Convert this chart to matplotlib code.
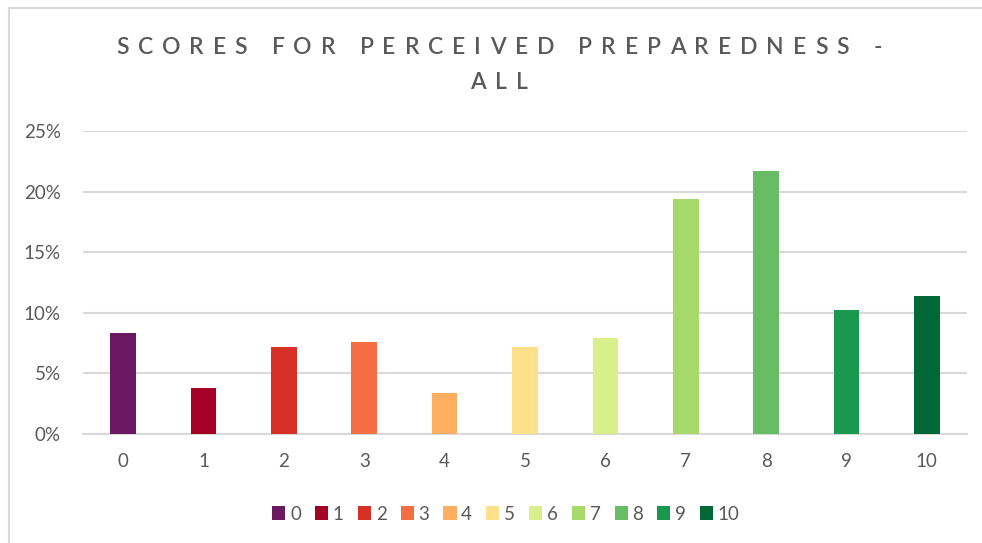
import matplotlib
matplotlib.use("Agg")
import matplotlib.pyplot as plt
from matplotlib.patches import Rectangle, Patch
from matplotlib.ticker import FuncFormatter, MultipleLocator

categories = ["0", "1", "2", "3", "4", "5", "6", "7", "8", "9", "10"]
values = [0.0835, 0.038, 0.072, 0.076, 0.034, 0.072, 0.0795, 0.194, 0.217, 0.102, 0.114]
colors = ["#6A1860", "#A50026", "#D73027", "#F46D43", "#FDAE61", "#FEE08B",
          "#D9EF8B", "#A6D96A", "#66BD63", "#1A9850", "#006837"]
title_lines = ["SCORES FOR PERCEIVED PREPAREDNESS -", "ALL"]

TXT = "#595959"
GRID = "#D9D9D9"
FONT = ["Lato", "DejaVu Sans"]

W, H = 982, 543
fig = plt.figure(figsize=(W / 100, H / 100), dpi=100)
fig.patch.set_facecolor("white")

# chart border (extends past right/bottom edge)
fig.patches.append(Rectangle((8.5 / W, -0.1), 1.2, 1.1 - 8.5 / H, transform=fig.transFigure,
                             fill=False, edgecolor=GRID, linewidth=1.5, zorder=0))

ax = fig.add_axes([83 / W, 1 - 434 / H, (967 - 83) / W, (434 - 131) / H])
x = list(range(len(categories)))
ax.bar(x, values, width=0.32, color=colors, zorder=3)
ax.set_xlim(-0.5, len(categories) - 0.5)
ax.set_ylim(0, 0.25)
ax.yaxis.set_major_locator(MultipleLocator(0.05))
ax.yaxis.set_major_formatter(FuncFormatter(lambda v, p: f"{v*100:.0f}%"))
ax.set_xticks(x)
ax.set_xticklabels(categories)
ax.grid(axis="y", color=GRID, linewidth=1.5, zorder=0)
for s in ["top", "right", "left"]:
    ax.spines[s].set_visible(False)
ax.spines["bottom"].set_color(GRID)
ax.spines["bottom"].set_linewidth(1.5)
ax.tick_params(axis="both", length=0, labelsize=13.5, labelcolor=TXT)
ax.tick_params(axis="y", pad=16)
ax.tick_params(axis="x", pad=14)
for lab in ax.get_xticklabels() + ax.get_yticklabels():
    lab.set_family(FONT)

# title with letter tracking, drawn character by character
renderer = fig.canvas.get_renderer()
TITLE_SIZE = 16.5
TRACK = 8.9  # extra px between characters
def tracked_title(text, cx, cy):
    arts = []
    widths = []
    for ch in text:
        t = fig.text(0, cy, ch if ch != " " else "\u00a0", ha="left", va="center",
                     fontsize=TITLE_SIZE, color=TXT, family=FONT, fontweight="semibold")
        if ch == " ":
            w = 0.28 * TITLE_SIZE * 100 / 72
        else:
            w = t.get_window_extent(renderer).width
        arts.append(t)
        widths.append(w)
    total = sum(widths) + TRACK * (len(text) - 1)
    xpos = cx - total / 2
    for t, w in zip(arts, widths):
        t.set_x(xpos / W)
        xpos += w + TRACK

tracked_title(title_lines[0], 499, 1 - 47 / H)
tracked_title(title_lines[1], 499, 1 - 83 / H)

handles = [Patch(facecolor=c, edgecolor="none") for c in colors]
leg = fig.legend(handles, categories, loc="center", bbox_to_anchor=(506 / W, 1 - 514 / H),
                 ncol=len(categories), frameon=False, handlelength=0.7, handleheight=0.7,
                 handletextpad=0.25, columnspacing=0.75,
                 prop={"family": FONT, "size": 13.5})
for t in leg.get_texts():
    t.set_color(TXT)

fig.savefig("out.png", dpi=100, facecolor="white")
